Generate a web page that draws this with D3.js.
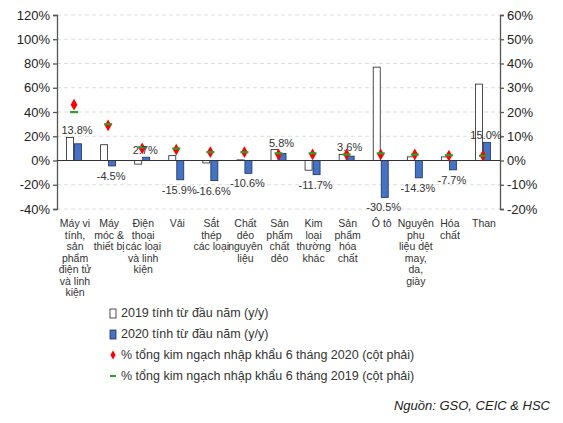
<!DOCTYPE html><html><head><meta charset="utf-8"><script src="https://cdn.jsdelivr.net/npm/d3@7"></script>
<style>body{margin:0;background:#fff;font-family:Arial,"Liberation Sans",sans-serif}</style></head><body><svg id="c" width="563" height="423"></svg><script>
const categories=[["Máy vi","tính,","sản","phẩm","điện tử","và linh","kiện"],["Máy","móc &","thiết bị"],["Điện","thoại","các loại","và linh","kiện"],["Vải"],["Sắt","thép","các loại"],["Chất","dẻo","nguyên","liệu"],["Sản","phẩm","chất","dẻo"],["Kim","loại","thường","khác"],["Sản","phẩm","hóa","chất"],["Ô tô"],["Nguyên","phụ","liệu dệt","may,","da,","giày"],["Hóa","chất"],["Than"]];
const v2019=[19,13,-3,4,-2,0.5,9,-8,5,77,3,3,63];
const v2020=[13.8,-4.5,2.7,-15.9,-16.6,-10.6,5.8,-11.7,3.6,-30.5,-14.3,-7.7,15.0];
const share2020=[23,14.5,5,4.5,3.5,3.5,2.5,2.5,2.5,2.5,2.5,2,2];
const share2019=[20,15,5.5,5,3.5,3.5,3,3,2.5,3,2.5,2.2,2];
const leftTicks=[-40,-20,0,20,40,60,80,100,120], rightTicks=[-20,-10,0,10,20,30,40,50,60];
const svg=d3.select("#c");
const L=57,R=500,T=15,B=209;
const y=d3.scaleLinear().domain([-40,120]).range([B,T]);
const y2=d3.scaleLinear().domain([-20,60]).range([B,T]);
const x=d3.scaleBand().domain(d3.range(13)).range([L,R]);
svg.append("g").selectAll("line").data(leftTicks.filter(d=>d!==0)).join("line").attr("x1",L).attr("x2",R).attr("y1",y).attr("y2",y).attr("stroke","#ddd").attr("stroke-dasharray","4,3");
const ga=svg.append("g").attr("transform",`translate(${L},0)`).call(d3.axisLeft(y).tickValues(leftTicks).tickFormat(d=>d+"%").tickSize(4));
const gb=svg.append("g").attr("transform",`translate(${R},0)`).call(d3.axisRight(y2).tickValues(rightTicks).tickFormat(d=>d+"%").tickSize(4));
[ga,gb].forEach(g=>{g.selectAll("text").attr("font-size",13).attr("fill","#222");g.selectAll("path,line").attr("stroke","#555").attr("stroke-width",1.3);});
const bw=7;
svg.append("g").selectAll("rect").data(v2019).join("rect").attr("x",(d,i)=>x(i)+x.bandwidth()/2-bw-0.5).attr("width",bw).attr("y",d=>y(Math.max(0,d))).attr("height",d=>Math.abs(y(d)-y(0))).attr("fill","#fff").attr("stroke","#222").attr("stroke-width",0.8);
svg.append("g").selectAll("rect").data(v2020).join("rect").attr("x",(d,i)=>x(i)+x.bandwidth()/2+0.5).attr("width",bw).attr("y",d=>y(Math.max(0,d))).attr("height",d=>Math.abs(y(d)-y(0))).attr("fill","#4472c4").attr("stroke","#1f2f5a").attr("stroke-width",0.8);
svg.append("line").attr("x1",L).attr("x2",R).attr("y1",y(0)).attr("y2",y(0)).attr("stroke","#333");
svg.append("g").selectAll("path").data(share2020).join("path").attr("d",d3.symbol(d3.symbolDiamond,40)).attr("transform",(d,i)=>`translate(${x(i)+x.bandwidth()/2},${y2(d)})`).attr("fill","#ff0000");
svg.append("g").selectAll("rect").data(share2019).join("rect").attr("x",(d,i)=>x(i)+x.bandwidth()/2-4).attr("y",d=>y2(d)-1).attr("width",8).attr("height",2.2).attr("fill","#2ca02c");
svg.append("g").selectAll("text").data(v2020).join("text").attr("x",(d,i)=>x(i)+x.bandwidth()/2+3).attr("y",(d,i)=>d>0?y(v2019[i]>d&&v2019[i]<25?v2019[i]:d)-3:y(d)+14).attr("text-anchor","middle").attr("font-size",11).attr("fill","#333").text(d=>d.toFixed(1)+"%");
categories.forEach((c,i)=>{const t=svg.append("text").attr("x",x(i)+x.bandwidth()/2+1).attr("y",227).attr("text-anchor","middle").attr("font-size",10.5).attr("fill","#333");c.forEach((s,j)=>t.append("tspan").attr("x",x(i)+x.bandwidth()/2+1).attr("dy",j?11.5:0).text(s));});
const leg=[["2019 tính từ đầu năm (y/y)","w"],["2020 tính từ đầu năm (y/y)","b"],["% tổng kim ngạch nhập khẩu 6 tháng 2020 (cột phải)","r"],["% tổng kim ngạch nhập khẩu 6 tháng 2019 (cột phải)","g"]];
leg.forEach((l,i)=>{const yy=317+i*21;
 if(l[1]=="w")svg.append("rect").attr("x",110).attr("y",yy-8).attr("width",6).attr("height",9).attr("fill","#fff").attr("stroke","#222").attr("stroke-width",0.8);
 if(l[1]=="b")svg.append("rect").attr("x",110).attr("y",yy-8).attr("width",6).attr("height",9).attr("fill","#4472c4").attr("stroke","#1f2f5a").attr("stroke-width",0.8);
 if(l[1]=="r")svg.append("path").attr("d",d3.symbol(d3.symbolDiamond,24)).attr("transform",`translate(113,${yy-4})`).attr("fill","red");
 if(l[1]=="g")svg.append("rect").attr("x",110).attr("y",yy-5).attr("width",6).attr("height",2).attr("fill","#2ca02c");
 svg.append("text").attr("x",121).attr("y",yy).attr("font-size",12.5).attr("fill","#333").text(l[0]);});
svg.append("text").attr("x",550).attr("y",410).attr("text-anchor","end").attr("font-size",13).attr("font-style","italic").attr("fill","#222").text("Nguồn: GSO, CEIC & HSC");
</script></body></html>
